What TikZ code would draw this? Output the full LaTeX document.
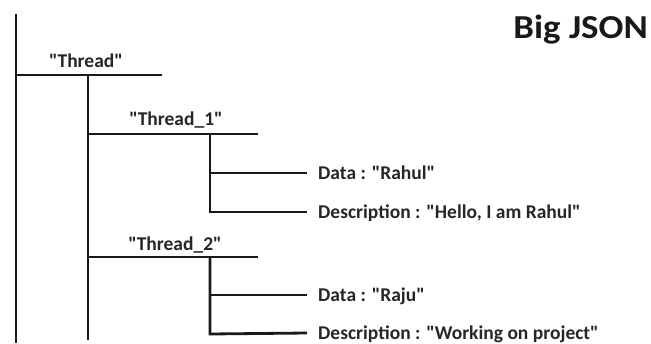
\documentclass[tikz,border=0pt]{standalone}
\usepackage{fontspec}
\setmainfont{Carlito}[Ligatures=TeXOff]
\newfontfamily\titlefont{Carlito}[FakeStretch=1.1]
\begin{document}
\begin{tikzpicture}[x=1pt,y=-1pt,
  ln/.style={line width=2.8pt,black!90},
  lbl/.style={inner sep=0pt,font=\bfseries\fontsize{19.5}{21}\selectfont,text=black!85},
  title/.style={inner sep=0pt,font=\titlefont\bfseries\fontsize{33.5}{36}\selectfont,text=black!90}]
\useasboundingbox (0,0) rectangle (651,343);
% coordinates
\coordinate (r0) at (16,14);
\coordinate (r1) at (16,343);
\coordinate (t0) at (16,75);
\coordinate (t1) at (162,75);
\coordinate (v0) at (88,75);
\coordinate (v1) at (88,340);
\coordinate (a0) at (88,134);
\coordinate (a1) at (258,134);
\coordinate (av0) at (210,134);
\coordinate (av1) at (210,212);
\coordinate (ad0) at (210,173);
\coordinate (ad1) at (307,173);
\coordinate (ae1) at (307,212);
\coordinate (b0) at (88,257);
\coordinate (b1) at (258,257);
\coordinate (bv0) at (210,257);
\coordinate (bv1) at (210,334);
\coordinate (bd0) at (210,295);
\coordinate (bd1) at (307,295);
\coordinate (be1) at (307,333);
% lines
\draw[ln] (r0) -- (r1);
\draw[ln] (t0) -- (t1);
\draw[ln] (v0) -- (v1);
\draw[ln] (a0) -- (a1);
\draw[ln] (av0) -- (av1) -- (ae1);
\draw[ln] (ad0) -- (ad1);
\draw[ln] (b0) -- (b1);
\draw[ln] (bv0) -- (bv1) -- (be1);
\draw[ln] (bd0) -- (bd1);
% labels
\node[title,anchor=base east] (big) at (648,38) {Big JSON};
\node[lbl,anchor=base] (lt) at (86,67) {"Thread"};
\node[lbl,anchor=base] (l1) at (176,125) {"Thread\_1"};
\node[lbl,anchor=base] (l2) at (175,250) {"Thread\_2"};
\node[lbl,anchor=base west] (d1) at (318,179) {Data : "Rahul"};
\node[lbl,anchor=base west] (e1) at (318,218) {Description : "Hello, I am Rahul"};
\node[lbl,anchor=base west] (d2) at (318,301) {Data : "Raju"};
\node[lbl,anchor=base west] (e2) at (318,339) {Description : "Working on project"};
\end{tikzpicture}
\end{document}
